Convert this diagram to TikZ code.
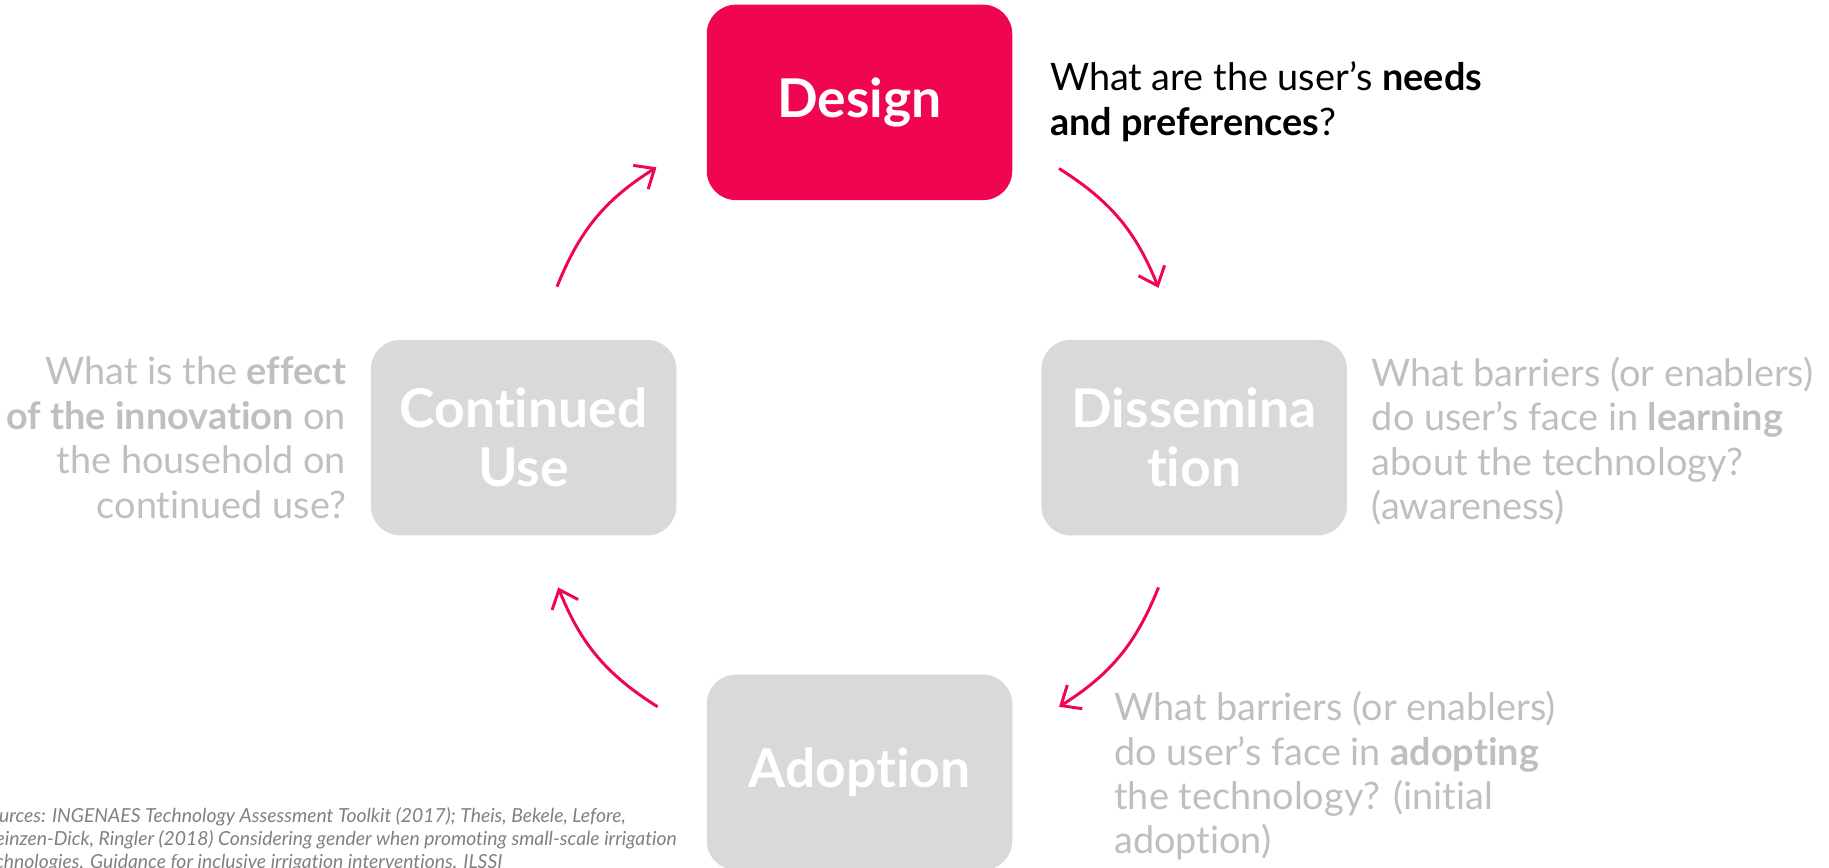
\documentclass[tikz,border=0pt]{standalone}
\usepackage{fontspec}
\setmainfont{Lato}[Ligatures=NoCommon]
\usetikzlibrary{arrows.meta}
\definecolor{crimson}{RGB}{240,5,80}
\definecolor{boxgray}{RGB}{217,217,217}
\definecolor{qgray}{RGB}{191,191,191}
\definecolor{srcgray}{RGB}{128,128,128}
\begin{document}
\begin{tikzpicture}[x=0.025cm, y=-0.025cm,
  stage/.style={fill=boxgray, rounded corners=0.625cm, minimum width=6.525cm,
    minimum height=4.175cm, inner sep=0pt, align=center, text=white,
    font=\fontsize{32.5}{36}\selectfont\bfseries},
  question/.style={inner sep=0pt, text=qgray, font=\fontsize{23}{27}\selectfont},
  turn/.style={crimson, line width=1.8pt, -{Straight Barb[length=3.5mm,width=6mm]}, bend left=18}]
  \useasboundingbox (0,0) rectangle (1563,741);

  \node[stage, fill=crimson] (design) at (734.5,87.5) {Design};
  \node[stage] (dissem) at (1020.5,374) {Dissemina\\tion};
  \node[stage] (adopt) at (734.5,660) {Adoption};
  \node[stage] (contuse) at (447.5,374) {Continued\\Use};

  \node[question, text=black, anchor=west, align=left] (qdesign) at (897,87)
    {What are the user’s {\bfseries needs}\\{\bfseries and preferences}?};
  \node[question, anchor=west, align=left] (qdissem) at (1172,377)
    {What barriers (or enablers)\\do user’s face in {\bfseries learning}\\about the technology?\\(awareness)};
  \node[question, anchor=west, align=left] (qadopt) at (952,663)
    {What barriers (or enablers)\\do user’s face in {\bfseries adopting}\\the technology? (initial\\adoption)};
  \node[question, anchor=east, align=right] (qcontuse) at (296,374)
    {What is the {\bfseries effect}\\{\bfseries of the innovation} on\\the household on\\continued use?};

  \node[anchor=north west, inner sep=0pt, align=left, text=srcgray,
    font=\fontsize{11.75}{14}\selectfont\itshape] (sources) at (-18,690)
    {Sources: INGENAES Technology Assessment Toolkit (2017); Theis, Bekele, Lefore,\\
     Meinzen-Dick, Ringler (2018) Considering gender when promoting small-scale irrigation\\
     technologies. Guidance for inclusive irrigation interventions. ILSSI};

  \coordinate (a1) at (476,245);
  \coordinate (a2) at (561,143);
  \coordinate (b1) at (905,144);
  \coordinate (b2) at (990,246);
  \coordinate (c1) at (990,502);
  \coordinate (c2) at (905,604);
  \coordinate (d1) at (562,604);
  \coordinate (d2) at (477,502);
  \draw[turn] (a1) to (a2);
  \draw[turn] (b1) to (b2);
  \draw[turn] (c1) to (c2);
  \draw[turn] (d1) to (d2);
\end{tikzpicture}
\end{document}
